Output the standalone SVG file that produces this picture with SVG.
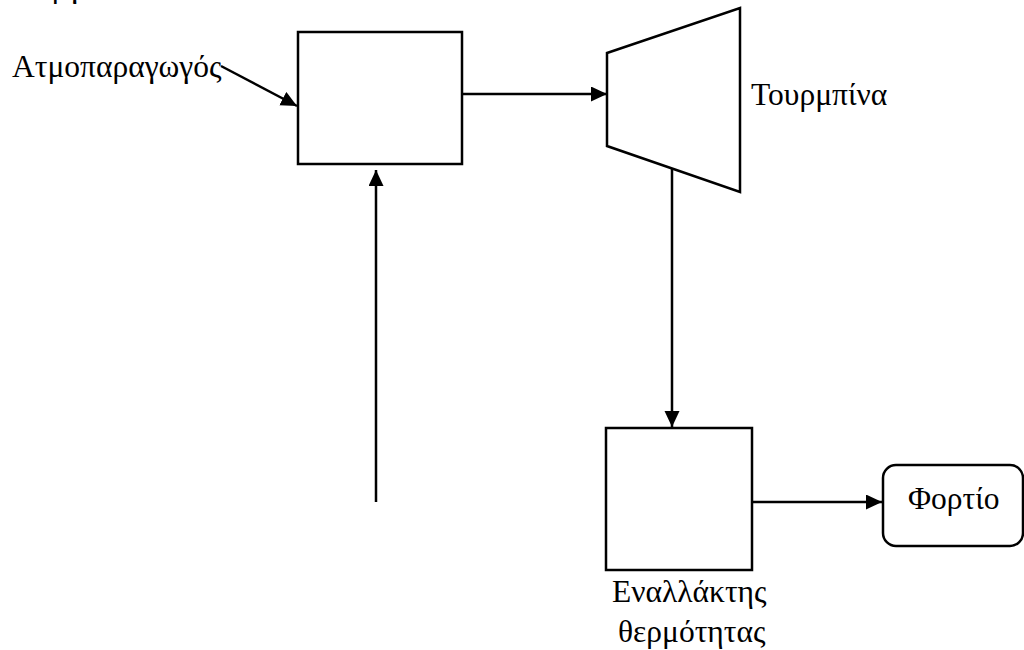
<svg xmlns="http://www.w3.org/2000/svg" width="1024" height="650" viewBox="0 0 1024 650">
  <style>
    .shape { fill: #ffffff; stroke: #000000; stroke-width: 2.5; }
    .edge { fill: none; stroke: #000000; stroke-width: 2.5; marker-end: url(#head); }
    .label { font-family: "Liberation Serif", "DejaVu Serif", "Times New Roman", serif; font-size: 31.5px; fill: #000000; }
  </style>
  <defs>
    <marker id="head" markerUnits="userSpaceOnUse" markerWidth="18" markerHeight="16" refX="16" refY="7.5" orient="auto">
      <path d="M0,0 L16,7.5 L0,15 z" fill="#000000"/>
    </marker>
  </defs>
  <rect width="1024" height="650" fill="#ffffff"/>

  <!-- clipped heading above the frame -->
  <text class="label" x="52" y="-3">ργ</text>

  <g id="connectors">
    <line class="edge" x1="221" y1="66" x2="297" y2="106"/>
    <line class="edge" x1="462" y1="94" x2="607" y2="94"/>
    <line class="edge" x1="672" y1="168" x2="672" y2="427"/>
    <line class="edge" x1="376" y1="502" x2="376" y2="170"/>
    <line class="edge" x1="752" y1="502" x2="882" y2="502"/>
  </g>

  <g id="steam-generator-label">
    <text class="label" x="12" y="77">Ατμοπαραγωγός</text>
  </g>

  <g id="boiler">
    <rect class="shape" x="298" y="32" width="164" height="132"/>
  </g>

  <g id="turbine">
    <polygon class="shape" points="607,53 740,8 740,192 607,146"/>
    <text class="label" x="751" y="105">Τουρμπίνα</text>
  </g>

  <g id="heat-exchanger">
    <rect class="shape" x="606" y="428" width="146" height="142"/>
    <text class="label" x="612" y="602">Εναλλάκτης</text>
    <text class="label" x="618" y="642">θερμότητας</text>
  </g>

  <g id="load">
    <rect class="shape" x="883" y="465" width="140" height="81" rx="13" ry="13"/>
    <text class="label" x="908" y="509">Φορτίο</text>
  </g>
</svg>
